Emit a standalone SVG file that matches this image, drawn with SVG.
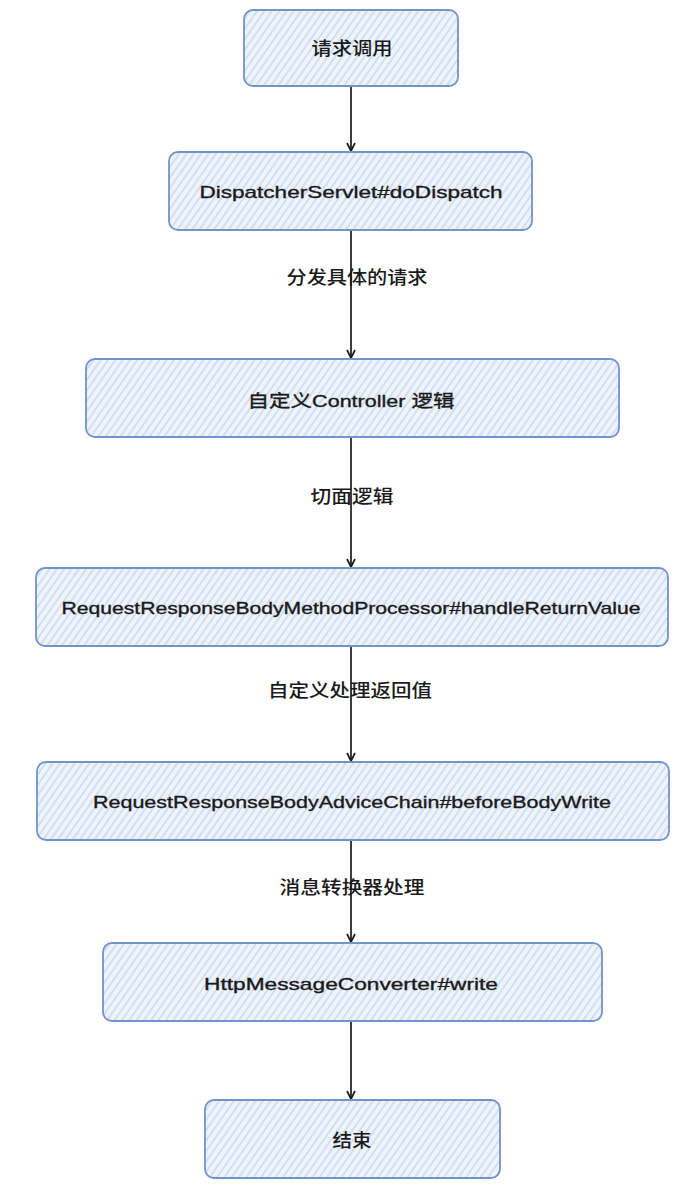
<svg xmlns="http://www.w3.org/2000/svg" width="698" height="1196" viewBox="0 0 698 1196">
<defs>
<pattern id="hatch" patternUnits="userSpaceOnUse" width="6" height="6" patternTransform="rotate(35)">
<rect width="6" height="6" fill="#eff4fc"/>
<line x1="1" y1="0" x2="1" y2="6" stroke="#c6d5ee" stroke-width="1.4"/>
</pattern>
<marker id="arr" viewBox="0 0 10 10" refX="9" refY="5" markerWidth="10" markerHeight="10" markerUnits="userSpaceOnUse" orient="auto">
<path d="M1,1 L9,5 L1,9" fill="none" stroke="#1a1a1a" stroke-width="1.7"/>
</marker>
<style>
.box{fill:url(#hatch);stroke:#7393cc;stroke-width:1.8}
.t{font-family:"Liberation Sans","Noto Sans CJK SC",sans-serif;font-size:17px;fill:#1a1a1a;stroke:#1a1a1a;stroke-width:0.35;text-anchor:middle}
.c{font-family:"Noto Sans CJK SC","Liberation Sans",sans-serif;font-size:18px;fill:#1a1a1a;text-anchor:middle;font-weight:500}
.e{stroke:#1a1a1a;stroke-width:1.7;fill:none;marker-end:url(#arr)}
</style>
</defs>
<rect width="698" height="1196" fill="#ffffff"/>
<g id="connectors">
<line class="e" x1="351" y1="86" x2="351" y2="151"/>
<line class="e" x1="351" y1="230" x2="351" y2="358"/>
<line class="e" x1="351" y1="438" x2="351" y2="567"/>
<line class="e" x1="351" y1="646" x2="351" y2="761"/>
<line class="e" x1="351" y1="840" x2="351" y2="942"/>
<line class="e" x1="351" y1="1021" x2="351" y2="1099"/>
<text class="c" x="357" y="284" textLength="141" lengthAdjust="spacingAndGlyphs">分发具体的请求</text>
<text class="c" x="352" y="503" textLength="83" lengthAdjust="spacingAndGlyphs">切面逻辑</text>
<text class="c" x="350" y="697" textLength="164" lengthAdjust="spacingAndGlyphs">自定义处理返回值</text>
<text class="c" x="352" y="894" textLength="145" lengthAdjust="spacingAndGlyphs">消息转换器处理</text>
</g>
<g id="n1"><rect class="box" x="244" y="10" width="214" height="76" rx="9"/><text class="c" x="352" y="55" textLength="81" lengthAdjust="spacingAndGlyphs">请求调用</text></g>
<g id="n2"><rect class="box" x="169" y="152" width="363" height="78" rx="9"/><text class="t" x="351" y="198" textLength="303" lengthAdjust="spacingAndGlyphs">DispatcherServlet#doDispatch</text></g>
<g id="n3"><rect class="box" x="86" y="359" width="533" height="78" rx="9"/><text class="t" x="351" y="407" textLength="207" lengthAdjust="spacingAndGlyphs">自定义Controller 逻辑</text></g>
<g id="n4"><rect class="box" x="36" y="568" width="632" height="78" rx="9"/><text class="t" x="351" y="614" textLength="579" lengthAdjust="spacingAndGlyphs">RequestResponseBodyMethodProcessor#handleReturnValue</text></g>
<g id="n5"><rect class="box" x="37" y="762" width="632" height="78" rx="9"/><text class="t" x="352" y="808" textLength="518" lengthAdjust="spacingAndGlyphs">RequestResponseBodyAdviceChain#beforeBodyWrite</text></g>
<g id="n6"><rect class="box" x="103" y="943" width="499" height="78" rx="9"/><text class="t" x="351" y="990" textLength="294" lengthAdjust="spacingAndGlyphs">HttpMessageConverter#write</text></g>
<g id="n7"><rect class="box" x="205" y="1100" width="295" height="78" rx="9"/><text class="c" x="352" y="1147" textLength="39" lengthAdjust="spacingAndGlyphs">结束</text></g>
</svg>
